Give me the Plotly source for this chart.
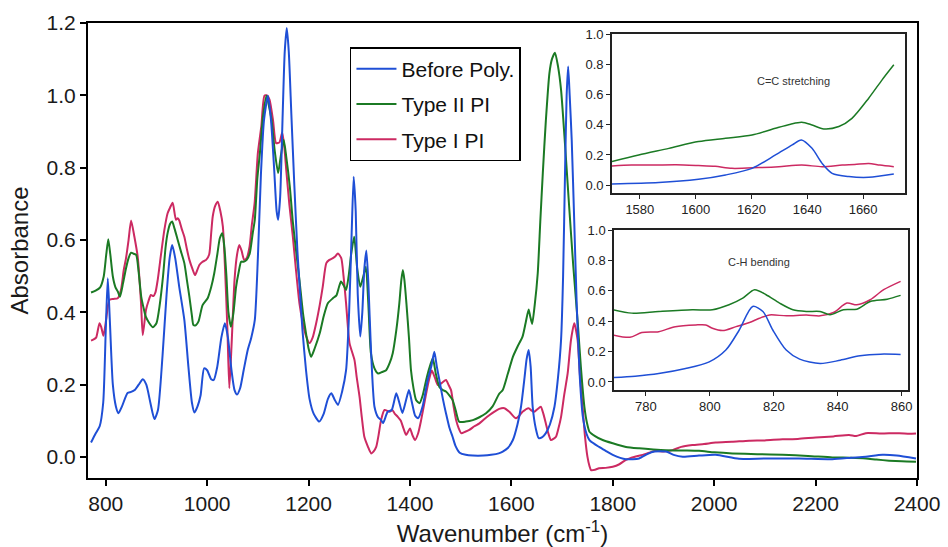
import plotly.graph_objects as go

# ---------------- main spectrum data ----------------
before_wn = [771, 780, 788, 795, 800, 804, 808, 814, 820, 825, 832, 843, 850, 857, 865, 873, 880, 888, 896, 903,
             912, 920, 926, 931, 937, 945, 955, 963, 970, 975, 981, 987, 994, 1000, 1008, 1013, 1020, 1028, 1035, 1041,
             1048, 1054, 1059, 1065, 1072, 1080, 1087, 1094, 1100, 1106, 1112, 1120, 1126, 1132, 1137, 1140, 1144, 1149,
             1153, 1157, 1161, 1166, 1172, 1178, 1182, 1188, 1195, 1202, 1210, 1221, 1230, 1238, 1245, 1251, 1258, 1266,
             1274, 1280, 1285, 1289, 1293, 1297, 1302, 1306, 1310, 1314, 1318, 1323, 1330, 1337, 1343, 1347, 1356, 1364,
             1373, 1379, 1385, 1391, 1398, 1404, 1410, 1416, 1425, 1435, 1442, 1448, 1453, 1458, 1465, 1471, 1478, 1484,
             1490, 1498, 1510, 1524, 1545, 1560, 1575, 1583, 1593, 1603, 1612, 1619, 1626, 1630, 1634, 1638, 1642, 1648,
             1654, 1661, 1668, 1676, 1685, 1692, 1698, 1702, 1706, 1709, 1712, 1715, 1719, 1724, 1729, 1735, 1741, 1748,
             1754, 1765, 1773, 1786, 1800, 1826, 1852, 1868, 1882, 1905, 1920, 1938, 1970, 2003, 2049, 2100, 2167, 2233,
             2270, 2299, 2332, 2360, 2398]
before_abs = [0.040, 0.065, 0.085, 0.15, 0.35, 0.494, 0.38, 0.20, 0.14, 0.121, 0.14, 0.177, 0.18, 0.185, 0.20, 0.215,
              0.20, 0.15, 0.105, 0.13, 0.28, 0.45, 0.55, 0.586, 0.55, 0.47, 0.379, 0.25, 0.15, 0.123, 0.14, 0.17, 0.245,
              0.24, 0.215, 0.213, 0.25, 0.33, 0.37, 0.33, 0.24, 0.185, 0.173, 0.19, 0.24, 0.296, 0.33, 0.379, 0.55, 0.78,
              0.93, 0.999, 0.93, 0.80, 0.68, 0.656, 0.72, 0.95, 1.12, 1.186, 1.12, 0.95, 0.75, 0.57, 0.48, 0.35, 0.24,
              0.16, 0.12, 0.098, 0.12, 0.16, 0.176, 0.16, 0.144, 0.18, 0.24, 0.40, 0.62, 0.775, 0.68, 0.45, 0.333, 0.40,
              0.52, 0.571, 0.48, 0.30, 0.139, 0.11, 0.102, 0.094, 0.125, 0.13, 0.176, 0.15, 0.122, 0.15, 0.185, 0.15,
              0.115, 0.107, 0.14, 0.213, 0.25, 0.291, 0.25, 0.213, 0.16, 0.121, 0.08, 0.056, 0.03, 0.012, 0.006, 0.004,
              0.004, 0.006, 0.01, 0.015, 0.025, 0.047, 0.09, 0.139, 0.22, 0.27, 0.296, 0.25, 0.139, 0.08, 0.052, 0.055,
              0.066, 0.09, 0.139, 0.22, 0.324, 0.50, 0.80, 1.0, 1.08, 1.0, 0.877, 0.65, 0.416, 0.22, 0.111, 0.065, 0.047,
              0.035, 0.028, 0.017, 0.006, -0.006, -0.004, 0.008, 0.015, 0.015, 0.006, 0.001, 0.004, 0.006, -0.005, -0.004,
              -0.004, -0.006, -0.002, 0.001, 0.006, 0.004, -0.004]

type2_wn = [771, 780, 789, 796, 801, 805, 809, 814, 819, 824, 828, 834, 840, 845, 850, 855, 860, 865, 870, 875, 879,
            886, 893, 900, 906, 913, 918, 922, 927, 931, 936, 942, 948, 955, 960, 965, 970, 973, 978, 983, 991, 1001,
            1008, 1014, 1020, 1025, 1030, 1034, 1038, 1042, 1047, 1052, 1057, 1062, 1067, 1072, 1078, 1084, 1090, 1094,
            1099, 1104, 1110, 1117, 1122, 1127, 1133, 1140, 1145, 1151, 1156, 1163, 1169, 1176, 1182, 1189, 1195, 1200,
            1205, 1212, 1222, 1230, 1238, 1248, 1255, 1260, 1264, 1269, 1274, 1279, 1284, 1290, 1296, 1302, 1308, 1313,
            1318, 1323, 1330, 1337, 1345, 1353, 1360, 1366, 1373, 1379, 1383, 1386, 1389, 1393, 1398, 1402, 1407, 1412,
            1419, 1425, 1432, 1438, 1445, 1451, 1458, 1465, 1471, 1478, 1484, 1490, 1497, 1510, 1524, 1537, 1550, 1563,
            1576, 1583, 1593, 1603, 1612, 1622, 1628, 1634, 1637, 1641, 1646, 1652, 1657, 1662, 1668, 1675, 1680, 1686,
            1692, 1698, 1706, 1714, 1722, 1731, 1737, 1744, 1749, 1754, 1765, 1780, 1800, 1826, 1852, 1880, 1905, 1940,
            1970, 2000, 2036, 2085, 2135, 2185, 2233, 2270, 2299, 2320, 2345, 2370, 2398]
type2_abs = [0.455, 0.46, 0.469, 0.499, 0.56, 0.602, 0.56, 0.499, 0.47, 0.457, 0.443, 0.48, 0.522, 0.55, 0.565, 0.562,
             0.559, 0.51, 0.443, 0.41, 0.388, 0.37, 0.359, 0.37, 0.416, 0.50, 0.58, 0.619, 0.645, 0.651, 0.63, 0.60,
             0.57, 0.536, 0.49, 0.443, 0.39, 0.365, 0.365, 0.375, 0.42, 0.439, 0.47, 0.508, 0.56, 0.605, 0.619, 0.58,
             0.50, 0.40, 0.36, 0.40, 0.47, 0.51, 0.54, 0.54, 0.545, 0.563, 0.62, 0.656, 0.77, 0.84, 0.94, 0.999, 0.97,
             0.932, 0.85, 0.785, 0.83, 0.877, 0.83, 0.748, 0.65, 0.563, 0.49, 0.398, 0.342, 0.30, 0.277, 0.30, 0.342,
             0.39, 0.425, 0.439, 0.447, 0.47, 0.485, 0.475, 0.462, 0.50, 0.56, 0.609, 0.52, 0.471, 0.50, 0.526, 0.42,
             0.287, 0.245, 0.231, 0.235, 0.24, 0.26, 0.287, 0.35, 0.425, 0.49, 0.517, 0.49, 0.425, 0.33, 0.24, 0.19,
             0.158, 0.149, 0.17, 0.213, 0.245, 0.273, 0.23, 0.194, 0.185, 0.181, 0.17, 0.158, 0.13, 0.098, 0.098, 0.102,
             0.11, 0.121, 0.14, 0.175, 0.185, 0.23, 0.277, 0.305, 0.333, 0.37, 0.408, 0.39, 0.368, 0.42, 0.508, 0.65,
             0.785, 0.93, 1.061, 1.10, 1.118, 1.08, 1.015, 0.86, 0.692, 0.53, 0.37, 0.25, 0.139, 0.095, 0.07, 0.058,
             0.047, 0.038, 0.028, 0.024, 0.021, 0.019, 0.018, 0.017, 0.013, 0.01, 0.008, 0.006, 0.003, -0.001, -0.002,
             -0.004, -0.007, -0.01, -0.012, -0.013]

type1_wn = [771, 776, 781, 787.6, 791, 795.5, 800.7, 807, 815, 823.6, 830, 835.5, 840, 845, 850, 856.5, 863, 869.6,
            873, 879.4, 884, 889, 894, 898, 902.5, 909, 915.6, 922, 927, 932, 938.5, 942, 945, 950, 955, 960, 965, 971,
            976, 980, 984.6, 991, 998, 1004, 1008, 1011, 1016, 1021, 1026, 1031, 1035, 1040, 1043.7, 1048, 1054, 1059,
            1063.4, 1068, 1073, 1078, 1083.7, 1088, 1093.6, 1100, 1106.8, 1113, 1118, 1123, 1130, 1136, 1142.6, 1148,
            1152, 1156, 1162, 1169, 1175, 1182, 1188.8, 1195, 1202, 1208, 1215, 1222, 1228, 1235, 1241, 1248, 1253,
            1257.8, 1264.5, 1269, 1274, 1280.8, 1290.6, 1295, 1300.5, 1305, 1310, 1317, 1323.5, 1328, 1333.4, 1338,
            1343, 1349.7, 1359.6, 1365, 1369.5, 1376, 1382, 1387, 1392.5, 1400, 1405, 1410, 1416, 1422, 1432, 1437,
            1443, 1449, 1455, 1463, 1471, 1476, 1481, 1486, 1491, 1496, 1501, 1509, 1517, 1527, 1537, 1547, 1557, 1566,
            1576, 1586, 1596, 1609, 1616, 1622, 1634, 1640, 1645, 1652, 1658, 1663, 1668, 1673, 1678, 1683, 1688, 1693,
            1698, 1704, 1711, 1717.6, 1724, 1730.6, 1735, 1740.5, 1745, 1750, 1754, 1757, 1765, 1773, 1786, 1800, 1813,
            1826, 1842, 1859, 1872, 1885, 1900, 1918, 1935, 1957, 1980, 2003, 2035, 2069, 2100, 2135, 2165, 2200, 2235,
            2266, 2280, 2299, 2330, 2365, 2385, 2398]
type1_abs = [0.322, 0.325, 0.33, 0.37, 0.36, 0.335, 0.379, 0.434, 0.437, 0.439, 0.462, 0.517, 0.55, 0.60, 0.654, 0.609,
             0.554, 0.425, 0.337, 0.407, 0.43, 0.448, 0.445, 0.455, 0.49, 0.56, 0.628, 0.674, 0.69, 0.703, 0.656, 0.66,
             0.654, 0.63, 0.609, 0.575, 0.545, 0.52, 0.503, 0.515, 0.531, 0.54, 0.545, 0.56, 0.62, 0.665, 0.695, 0.706,
             0.68, 0.637, 0.53, 0.351, 0.19, 0.305, 0.49, 0.56, 0.586, 0.57, 0.545, 0.55, 0.582, 0.64, 0.702, 0.84, 0.914,
             0.999, 1.0, 0.988, 0.93, 0.868, 0.87, 0.897, 0.86, 0.794, 0.70, 0.609, 0.52, 0.425, 0.37, 0.335, 0.315,
             0.33, 0.37, 0.42, 0.471, 0.536, 0.545, 0.55, 0.555, 0.563, 0.55, 0.50, 0.425, 0.315, 0.268, 0.22, 0.167,
             0.11, 0.056, 0.029, 0.01, 0.015, 0.028, 0.06, 0.102, 0.13, 0.125, 0.13, 0.121, 0.111, 0.10, 0.08, 0.061,
             0.079, 0.06, 0.047, 0.065, 0.102, 0.176, 0.21, 0.239, 0.22, 0.199, 0.205, 0.213, 0.2, 0.185, 0.14, 0.102,
             0.08, 0.066, 0.07, 0.075, 0.085, 0.093, 0.105, 0.116, 0.125, 0.133, 0.135, 0.125, 0.107, 0.115, 0.125,
             0.135, 0.128, 0.125, 0.133, 0.139, 0.12, 0.093, 0.065, 0.047, 0.05, 0.056, 0.08, 0.111, 0.17, 0.231, 0.324,
             0.37, 0.324, 0.23, 0.139, 0.06, 0.001, -0.025, -0.036, -0.035, -0.031, -0.03, -0.027, -0.02, -0.008, 0.0,
             0.006, 0.012, 0.017, 0.015, 0.019, 0.028, 0.033, 0.036, 0.04, 0.042, 0.045, 0.046, 0.049, 0.05, 0.054,
             0.057, 0.061, 0.058, 0.066, 0.065, 0.066, 0.064, 0.065]

# ---------------- inset 1: C=C stretching ----------------
cc_wn_green = [1570, 1579.6, 1590.4, 1601, 1610.7, 1620.2, 1628.6, 1634, 1638, 1641.7, 1645.9, 1651.3, 1656, 1662,
               1666.8, 1671]
cc_green = [0.156, 0.2, 0.244, 0.289, 0.311, 0.333, 0.378, 0.405, 0.418, 0.4, 0.373, 0.389, 0.444, 0.578, 0.7, 0.8]
cc_wn_blue = [1570, 1586.8, 1601, 1610.7, 1620.2, 1628.6, 1634.6, 1637.9, 1641.7, 1645.3, 1648.9, 1654.9, 1662, 1671]
cc_blue = [0.007, 0.016, 0.038, 0.067, 0.111, 0.2, 0.267, 0.3, 0.244, 0.144, 0.078, 0.056, 0.051, 0.073]
cc_wn_pink = [1570, 1577, 1585, 1593, 1601, 1607, 1613, 1622.6, 1629.8, 1638, 1645.3, 1652.5, 1657, 1662, 1666, 1671]
cc_pink = [0.127, 0.133, 0.133, 0.135, 0.13, 0.125, 0.111, 0.116, 0.122, 0.133, 0.122, 0.133, 0.137, 0.144, 0.133,
           0.122]

# ---------------- inset 2: C-H bending ----------------
ch_wn_green = [769.8, 775.6, 784, 794.5, 800.8, 806, 810.3, 814, 817.6, 821.8, 826, 830.2, 834.5, 837.6, 841.8, 846,
               850.2, 855.5, 859.7]
ch_green = [0.475, 0.453, 0.464, 0.475, 0.475, 0.508, 0.552, 0.607, 0.574, 0.519, 0.475, 0.464, 0.464, 0.442, 0.475,
            0.479, 0.53, 0.545, 0.57]
ch_wn_blue = [769.8, 776.6, 784, 792.4, 799.8, 805, 809.2, 813.4, 816.6, 819.7, 823.9, 828.1, 834.5, 840.8, 847,
              853.4, 859.7]
ch_blue = [0.029, 0.038, 0.055, 0.088, 0.132, 0.21, 0.342, 0.497, 0.464, 0.342, 0.21, 0.15, 0.121, 0.143, 0.172, 0.183,
           0.181]
ch_wn_pink = [769.8, 775, 778.7, 784, 789.2, 795.6, 798.7, 800.8, 804, 808.2, 812.4, 815.5, 818.7, 824, 830.2, 834.5,
              838.7, 842.9, 846, 850.2, 854.4, 859.7]
ch_pink = [0.309, 0.294, 0.325, 0.331, 0.364, 0.375, 0.375, 0.353, 0.338, 0.364, 0.391, 0.419, 0.441, 0.435, 0.441,
           0.435, 0.457, 0.519, 0.508, 0.541, 0.607, 0.662]

series_names = ["Before Poly.", "Type II PI", "Type I PI"]
colors = ["#1f4fd6", "#1b7a24", "#cc2a62"]
x_ticks_main = [800, 1000, 1200, 1400, 1600, 1800, 2000, 2200, 2400]
y_ticks_main = [0.0, 0.2, 0.4, 0.6, 0.8, 1.0, 1.2]
band_cc = [1620, 1650]
band_ch = [801.5, 829]

FONT = "Liberation Sans, Arial, Helvetica, sans-serif"

fig = go.Figure()

main_data = [(before_wn, before_abs), (type2_wn, type2_abs), (type1_wn, type1_abs)]
draw_order = [2, 1, 0]
for i in draw_order:
    wn, ab = main_data[i]
    fig.add_trace(go.Scatter(x=wn, y=ab, mode="lines", name=series_names[i],
                             line=dict(color=colors[i], width=2, shape="spline", smoothing=0.6),
                             legendgroup=series_names[i], legendrank=i + 1,
                             xaxis="x", yaxis="y"))

cc_data = [(cc_wn_blue, cc_blue), (cc_wn_green, cc_green), (cc_wn_pink, cc_pink)]
ch_data = [(ch_wn_blue, ch_blue), (ch_wn_green, ch_green), (ch_wn_pink, ch_pink)]
for i in draw_order:
    fig.add_trace(go.Scatter(x=cc_data[i][0], y=cc_data[i][1], mode="lines", showlegend=False,
                             line=dict(color=colors[i], width=1.5, shape="spline", smoothing=0.8),
                             xaxis="x2", yaxis="y2"))
    fig.add_trace(go.Scatter(x=ch_data[i][0], y=ch_data[i][1], mode="lines", showlegend=False,
                             line=dict(color=colors[i], width=1.5, shape="spline", smoothing=0.8),
                             xaxis="x3", yaxis="y3"))

band_color = "rgba(236,231,205,0.85)"
fig.add_shape(type="rect", xref="x2", yref="y2 domain", x0=band_cc[0], x1=band_cc[1], y0=0, y1=1,
              fillcolor=band_color, line=dict(width=0), layer="below")
fig.add_shape(type="rect", xref="x3", yref="y3 domain", x0=band_ch[0], x1=band_ch[1], y0=0, y1=1,
              fillcolor=band_color, line=dict(width=0), layer="below")

fig.add_annotation(x=1635, y=0.69, xref="x2", yref="y2", text="C=C stretching", showarrow=False,
                   font=dict(family=FONT, size=11, color="#333"))
fig.add_annotation(x=815.3, y=0.79, xref="x3", yref="y3", text="C-H bending", showarrow=False,
                   font=dict(family=FONT, size=11, color="#333"))

main_ax = dict(showline=True, mirror=True, linecolor="black", linewidth=2, ticks="outside", ticklen=6,
               tickwidth=2, tickcolor="black", showgrid=False, zeroline=False, automargin=False,
               tickfont=dict(family=FONT, size=21, color="#1a1a1a"))
inset_ax = dict(showline=True, mirror=True, linecolor="#222", linewidth=1.5, ticks="outside", ticklen=4,
                tickwidth=1.2, tickcolor="#222", showgrid=False, zeroline=False, automargin=False,
                tickfont=dict(family=FONT, size=13, color="#222"))

fig.update_layout(
    width=948, height=547,
    margin=dict(l=88, r=31, t=23, b=69),
    paper_bgcolor="white", plot_bgcolor="white",
    font=dict(family=FONT, color="#1a1a1a"),
    xaxis=dict(**main_ax, range=[765, 2400], tickvals=x_ticks_main, domain=[0, 1],
               title=dict(text="Wavenumber (cm<sup>-1</sup>)", font=dict(family=FONT, size=24), standoff=11)),
    yaxis=dict(**main_ax, range=[-0.058, 1.2], tickvals=y_ticks_main, tickformat=".1f", domain=[0, 1],
               title=dict(text="Absorbance", font=dict(family=FONT, size=24), standoff=11)),
    xaxis2=dict(**inset_ax, range=[1570, 1675], tickvals=[1580, 1600, 1620, 1640, 1660],
                domain=[0.632, 0.9855], anchor="y2"),
    yaxis2=dict(**inset_ax, range=[-0.053, 1.005], tickvals=[0, 0.2, 0.4, 0.6, 0.8, 1.0], tickformat=".1f",
                domain=[0.6264, 0.9758], anchor="x2"),
    xaxis3=dict(**inset_ax, range=[770, 862], tickvals=[780, 800, 820, 840, 860],
                domain=[0.6345, 0.9891], anchor="y3"),
    yaxis3=dict(**inset_ax, range=[-0.053, 1.0], tickvals=[0, 0.2, 0.4, 0.6, 0.8, 1.0], tickformat=".1f",
                domain=[0.1934, 0.545], anchor="x3"),
    legend=dict(x=0.316, y=0.947, xanchor="left", yanchor="top", bgcolor="white",
                bordercolor="black", borderwidth=1.5, tracegroupgap=5, itemwidth=40,
                font=dict(family=FONT, size=21, color="#111")),
    showlegend=True,
)

fig.write_html("out.html", config={"displayModeBar": False},
               post_script="document.body.style.margin='0px';")
